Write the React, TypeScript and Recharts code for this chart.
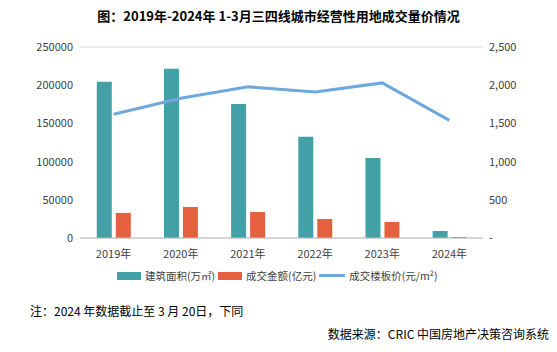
import React from 'react';
import { ComposedChart, Bar, Line, XAxis, YAxis, CartesianGrid } from 'recharts';

const years = ['2019年', '2020年', '2021年', '2022年', '2023年', '2024年'];
const area = [204500, 221500, 175500, 132500, 104800, 9200];
const amount = [32800, 40600, 34000, 24900, 21000, 1300];
const price = [1620, 1830, 1980, 1910, 2030, 1540];

const leftTicks = [0, 50000, 100000, 150000, 200000, 250000];
const rightTicks = [0, 500, 1000, 1500, 2000, 2500];

const data = years.map((y, i) => ({ year: y, area: area[i], amount: amount[i], price: price[i] }));

const FONT = '"Noto Sans CJK SC", "Noto Sans", sans-serif';
const TEAL = '#43a0a6';
const ORANGE = '#e5603f';
const BLUE = '#6ea8dc';

const fmtRight = (v: number) => (v === 0 ? '-' : v.toLocaleString('en-US'));

const LegendRow = () => (
  <div style={{ position: 'absolute', top: 268, left: 117, display: 'flex', alignItems: 'center', fontSize: 10.5, color: '#404040', fontFamily: FONT }}>
    <span style={{ width: 24, height: 8, background: TEAL, display: 'inline-block', marginRight: 4 }} />
    <span style={{ marginRight: 3 }}>建筑面积(万㎡)</span>
    <span style={{ width: 24, height: 8, background: ORANGE, display: 'inline-block', marginRight: 4 }} />
    <span style={{ marginRight: 3 }}>成交金额(亿元)</span>
    <span style={{ width: 26, height: 3, background: BLUE, display: 'inline-block', marginRight: 4 }} />
    <span>成交楼板价(元/m²)</span>
  </div>
);

export default function App() {
  return (
    <div style={{ position: 'absolute', left: 0, top: 0, width: 557, height: 352, background: '#fff', fontFamily: FONT }}>
      <div style={{ position: 'absolute', top: 6, left: 0, width: 557, textAlign: 'center', fontSize: 13, fontWeight: 'bold', color: '#000' }}>
        图：2019年-2024年 1-3月三四线城市经营性用地成交量价情况
      </div>
      <div style={{ position: 'absolute', top: 0, left: 0 }}>
        <ComposedChart width={557} height={260} data={data} margin={{ top: 47, right: 0, bottom: 0, left: 0 }} barGap={4} barCategoryGap="25%">
          <CartesianGrid vertical={false} stroke="#d9d9d9" />
          <XAxis dataKey="year" axisLine={{ stroke: '#bfbfbf' }} tickLine={false} height={22} tickMargin={6}
            tick={{ fontSize: 11, fill: '#404040', fontFamily: FONT }} />
          <YAxis yAxisId="left" orientation="left" width={80} domain={[0, 250000]} ticks={leftTicks} axisLine={false} tickLine={false}
            tickSize={0} tickMargin={7} interval={0} tick={{ fontSize: 11, fill: '#404040', fontFamily: FONT }} />
          <YAxis yAxisId="right" orientation="right" width={74} domain={[0, 2500]} ticks={rightTicks} axisLine={false} tickLine={false}
            tickSize={0} tickMargin={6} interval={0} tickFormatter={fmtRight} tick={{ fontSize: 11, fill: '#404040', fontFamily: FONT, textAnchor: 'start' }} />
          <Bar yAxisId="left" dataKey="area" fill={TEAL} isAnimationActive={false} />
          <Bar yAxisId="left" dataKey="amount" fill={ORANGE} isAnimationActive={false} />
          <Line yAxisId="right" dataKey="price" stroke={BLUE} strokeWidth={3} dot={false} type="linear" isAnimationActive={false} />
        </ComposedChart>
      </div>
      <LegendRow />
      <div style={{ position: 'absolute', top: 302, left: 30, fontSize: 12, color: '#000' }}>
        注：2024 年数据截止至 3 月 20日，下同
      </div>
      <div style={{ position: 'absolute', top: 325, right: 8, fontSize: 12, color: '#000' }}>
        数据来源：CRIC 中国房地产决策咨询系统
      </div>
    </div>
  );
}
